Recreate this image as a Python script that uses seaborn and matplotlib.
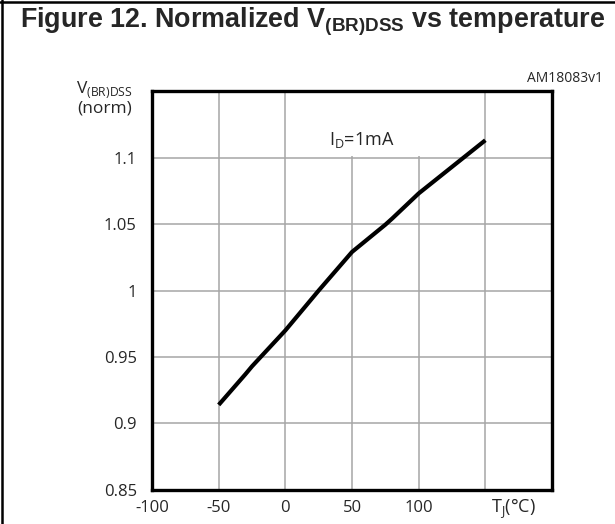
import matplotlib
matplotlib.use("Agg")
import matplotlib.pyplot as plt
from matplotlib.patches import Rectangle
from matplotlib.lines import Line2D
import seaborn as sns
import pandas as pd

# Curve
temperature = [-50, -30, -25, 0, 25, 50, 75, 80, 100, 125, 150]
v_norm = [0.914, 0.937, 0.943, 0.970, 1.000, 1.029, 1.0495, 1.054, 1.073, 1.093, 1.113]

x_ticks = [-100, -50, 0, 50, 100, 150]
x_tick_labels = ["-100", "-50", "0", "50", "100", ""]
y_ticks = [0.85, 0.9, 0.95, 1.0, 1.05, 1.1, 1.15]
y_tick_labels = ["0.85", "0.9", "0.95", "1", "1.05", "1.1", ""]

df = pd.DataFrame({"T": temperature, "V": v_norm})

sns.set_style("white")
plt.rcParams["font.family"] = ["Open Sans", "DejaVu Sans"]

fig = plt.figure(figsize=(6.15, 5.24), dpi=100)
ax = fig.add_axes([0.2472, 0.0649, 0.6504, 0.7614])

sns.lineplot(data=df, x="T", y="V", ax=ax, color="black", linewidth=3.0,
             zorder=5, solid_capstyle="butt")

ax.set_xlim(-100, 200)
ax.set_ylim(0.85, 1.15)
ax.set_xticks(x_ticks)
ax.set_xticklabels(x_tick_labels)
ax.set_yticks(y_ticks)
ax.set_yticklabels(y_tick_labels)
ax.tick_params(length=0, labelsize=12, pad=7)
ax.tick_params(axis="y", pad=11)
ax.set_xlabel("")
ax.set_ylabel("")
ax.grid(True, color="#a6a6a6", linewidth=1.1, zorder=1)
ax.set_axisbelow(True)
for s in ax.spines.values():
    s.set_color("black")
    s.set_linewidth(2.4)

# white box behind the test condition label
ax.add_patch(Rectangle((1.2, 1.1012), 147.6, 0.0488, facecolor="white",
                       edgecolor="none", zorder=2))
ax.text(57, 1.1135, r"I$_\mathregular{D}$=1mA", ha="center", va="center",
        fontsize=13, zorder=3)

ax.text(171, 0.8445, r"T$_\mathregular{J}$(°C)", ha="center", va="top",
        fontsize=13)

fig.text(0.215, 0.829, r"V$_\mathregular{(BR)DSS}$", ha="right", va="center",
         fontsize=12.5)
fig.text(0.215, 0.793, "(norm)", ha="right", va="center", fontsize=12.5)
fig.text(0.981, 0.851, "AM18083v1", ha="right", va="center", fontsize=10)

fig.text(0.033, 0.958, r"Figure 12. Normalized V$_\mathregular{(BR)DSS}$ vs temperature",
         ha="left", va="center", fontsize=19.4, fontweight="bold",
         family=["Liberation Sans", "DejaVu Sans"])

# frame lines of the datasheet panel
fig.add_artist(Line2D([0, 1], [0.996, 0.996], color="black", linewidth=1.8,
                      transform=fig.transFigure))
fig.add_artist(Line2D([0.004, 0.004], [0, 1], color="black", linewidth=1.8,
                      transform=fig.transFigure))

fig.savefig("out.png", dpi=100)
